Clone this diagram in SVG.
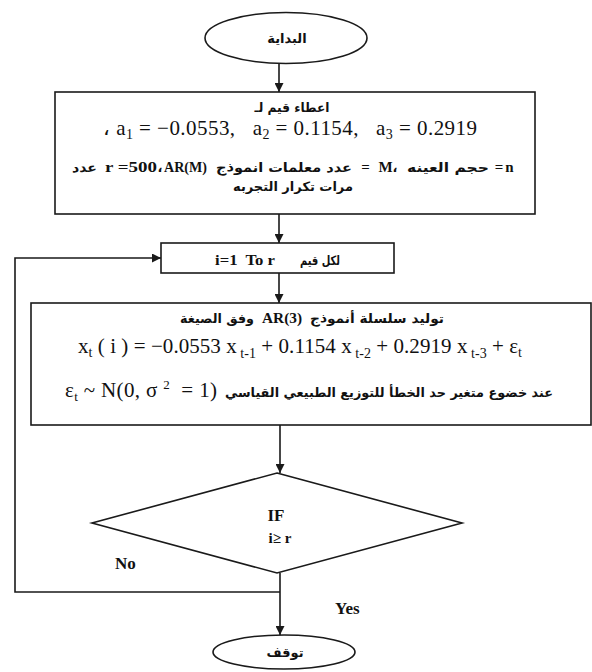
<svg xmlns="http://www.w3.org/2000/svg" width="592" height="672" viewBox="0 0 592 672">
<defs>
<style>
.shape{fill:#fff;stroke:#1a1a1a;stroke-width:1.6}
.ln{fill:none;stroke:#1a1a1a;stroke-width:1.6}
.ar{font-family:'DejaVu Sans',sans-serif;font-weight:bold;font-size:13px;fill:#111}
.lat{font-family:'Liberation Serif',serif;font-weight:bold;font-size:15px;fill:#111}
.lbl{font-family:'Liberation Serif',serif;font-weight:bold;font-size:17px;fill:#111}
.math{font-family:'Liberation Serif',serif;font-size:21px;fill:#111;white-space:pre}
</style>
<marker id="ah" viewBox="0 0 10 10" refX="10" refY="5" markerWidth="9" markerHeight="9" markerUnits="userSpaceOnUse" orient="auto">
<path d="M0,0 L10,5 L0,10 z" fill="#1a1a1a"/>
</marker>
</defs>
<rect width="592" height="672" fill="#fff"/>

<g id="connectors">
<line class="ln" x1="279" y1="63.5" x2="279" y2="92" marker-end="url(#ah)"/>
<line class="ln" x1="279" y1="214" x2="279" y2="243" marker-end="url(#ah)"/>
<line class="ln" x1="279" y1="273" x2="279" y2="303" marker-end="url(#ah)"/>
<line class="ln" x1="280" y1="425" x2="280" y2="473" marker-end="url(#ah)"/>
<line class="ln" x1="280" y1="573" x2="280" y2="635" marker-end="url(#ah)"/>
<path class="ln" d="M280,592 H15 V258 H161" marker-end="url(#ah)"/>
<text class="lbl" x="115" y="569">No</text>
<text class="lbl" x="335" y="614">Yes</text>
</g>

<g id="start">
<ellipse class="shape" cx="286" cy="38" rx="81" ry="25.5"/>
<text class="ar" x="287" y="43" text-anchor="middle">البداية</text>
</g>

<g id="init">
<rect class="shape" x="55" y="92" width="480" height="122"/>
<text class="ar" x="292" y="112" text-anchor="middle" textLength="75" lengthAdjust="spacingAndGlyphs">اعطاء قيم لـ</text>
<text class="math" x="103" y="135" textLength="374" direction="ltr">، a<tspan font-size="14" dy="4">1</tspan><tspan dy="-4"> = −0.0553,   a</tspan><tspan font-size="14" dy="4">2</tspan><tspan dy="-4"> = 0.1154,   a</tspan><tspan font-size="14" dy="4">3</tspan><tspan dy="-4"> = 0.2919</tspan></text>
<text class="ar" x="84.5" y="172" text-anchor="middle" textLength="25" lengthAdjust="spacingAndGlyphs">عدد</text>
<text class="lat" x="131" y="172" text-anchor="middle" textLength="52" lengthAdjust="spacingAndGlyphs" style="white-space:pre">r =500</text>
<text class="ar" x="160" y="172" text-anchor="middle">،</text>
<text class="lat" x="185.5" y="172" text-anchor="middle" textLength="43" lengthAdjust="spacingAndGlyphs">AR(M)</text>
<text class="ar" x="284" y="172" text-anchor="middle" textLength="136" lengthAdjust="spacingAndGlyphs">عدد معلمات انموذج</text>
<text class="lat" x="365.5" y="172" text-anchor="middle">=</text>
<text class="lat" x="385.5" y="172" text-anchor="middle">M</text>
<text class="ar" x="395" y="172" text-anchor="middle">،</text>
<text class="ar" x="448" y="172" text-anchor="middle" textLength="82" lengthAdjust="spacingAndGlyphs">حجم العينه</text>
<text class="lat" x="499" y="172" text-anchor="middle">=</text>
<text class="lat" x="509.5" y="172" text-anchor="middle">n</text>
<text class="ar" x="293" y="191" text-anchor="middle" textLength="120" lengthAdjust="spacingAndGlyphs">مرات تكرار التجربه</text>
</g>

<g id="loop">
<rect class="shape" x="161" y="243" width="233" height="30"/>
<text class="lat" x="245" y="265" text-anchor="middle" textLength="60" lengthAdjust="spacingAndGlyphs" style="white-space:pre">i=1  To r</text>
<text class="ar" x="320" y="265" text-anchor="middle" textLength="40" lengthAdjust="spacingAndGlyphs">لكل قيم</text>
</g>

<g id="generate">
<rect class="shape" x="31" y="303" width="560" height="122"/>
<text class="ar" x="217" y="323" text-anchor="middle" textLength="74" lengthAdjust="spacingAndGlyphs">وفق الصيغة</text>
<text class="lat" x="282" y="323" text-anchor="middle" textLength="40" lengthAdjust="spacingAndGlyphs">AR(3)</text>
<text class="ar" x="377" y="323" text-anchor="middle" textLength="134" lengthAdjust="spacingAndGlyphs">توليد سلسلة أنموذج</text>
<text class="math" x="78" y="353" textLength="444" direction="ltr">x<tspan font-size="14" dy="4">t</tspan><tspan dy="-4"> ( i ) = −0.0553 x</tspan><tspan font-size="14" dy="5"> t-1</tspan><tspan dy="-5"> + 0.1154 x</tspan><tspan font-size="14" dy="5"> t-2</tspan><tspan dy="-5"> + 0.2919 x</tspan><tspan font-size="14" dy="5"> t-3</tspan><tspan dy="-5"> + ε</tspan><tspan font-size="14" dy="4">t</tspan></text>
<text class="math" x="65" y="397" textLength="152" direction="ltr">ε<tspan font-size="13" dy="4">t</tspan><tspan dy="-4"> ~ N(0, σ </tspan><tspan font-size="13" dy="-8">2</tspan><tspan dy="8">  = 1)</tspan></text>
<text class="ar" x="389" y="397" text-anchor="middle" textLength="328" lengthAdjust="spacingAndGlyphs">عند خضوع متغير حد الخطأ للتوزيع الطبيعي القياسي</text>
</g>

<g id="decision">
<polygon class="shape" points="277,473 462,523 277,573 92,523"/>
<text class="lbl" x="276" y="521" text-anchor="middle">IF</text>
<text class="lat" x="280" y="543" text-anchor="middle" style="white-space:pre">i≥ r</text>
</g>

<g id="stop">
<ellipse class="shape" cx="284" cy="652" rx="71" ry="17"/>
<text class="ar" x="285" y="657" text-anchor="middle">توقف</text>
</g>
</svg>
